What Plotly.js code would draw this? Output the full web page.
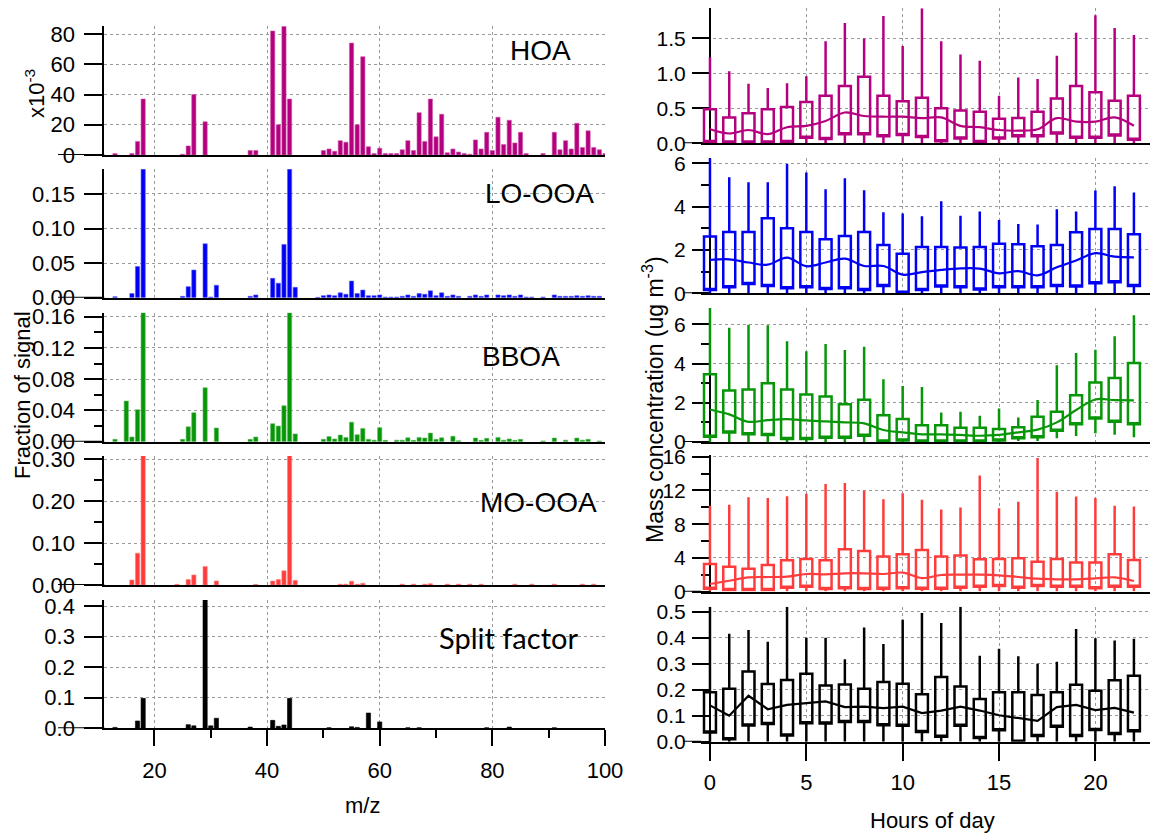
<!DOCTYPE html>
<html><head><meta charset="utf-8">
<script src="https://cdn.plot.ly/plotly-3.0.1.min.js"></script>
<style>html,body{margin:0;padding:0;background:#fff}#chart{width:1154px;height:836px}</style>
</head><body><div id="chart"></div>
<script>
// ---------- Mass spectra (fraction of signal) ----------
const hoaMz = [13,16,17,18,25,26,27,29,37,38,41,42,43,44,50,51,52,53,54,55,56,57,58,59,60,61,62,63,64,65,66,67,68,69,70,71,72,73,74,75,76,77,78,79,80,81,82,83,84,85,86,89,91,92,93,94,95,96,97,98,99,100];
const hoaVal = [1,1,9,37,0.5,6,40,22,3,3,82,20,85,37,3,4,2.5,9.5,8.5,74,20,65,5.5,1,4.5,1,1,1,3.5,9.5,3,28,9,37,12,27,1.5,4,2,1,0.5,10,4,15,3,25,7,23,8,15,1,1,15,3.5,9.5,4,21,5,16,5,3.5,1]; // x10^-3

const looaMz = [13,16,17,18,25,26,27,29,30,31,37,38,41,42,43,44,45,49,50,51,52,53,54,55,56,57,58,59,60,61,62,63,64,65,66,67,68,69,70,71,72,73,74,76,77,78,79,81,82,83,84,85,86,87,89,91,92,93,94,95,96,97,98,99];
const looaVal = [0.0015,0.006,0.045,0.186,
  0.002,0.016,0.040,0.078,0.001,0.018,
  0.002,0.004,
  0.028,0.021,0.077,0.186,0.015,
  0.0005,0.003,0.004,0.003,0.007,0.005,0.024,0.006,0.011,0.003,0.003,0.004,0.001,0.001,0.001,0.002,0.004,0.002,0.006,0.005,0.010,0.003,0.007,0.002,0.004,0.002,
  0.002,0.004,0.002,0.004,
  0.004,0.003,0.004,0.002,0.004,0.001,0.001,
  0.001,
  0.004,0.002,0.002,0.002,0.003,0.002,0.003,0.002,0.002];

const bboaMz = [13,15,16,17,18,25,26,27,29,31,37,38,41,42,43,44,45,50,51,52,53,54,55,56,57,58,59,60,61,63,64,65,66,67,68,69,70,71,73,74,77,78,79,81,82,83,84,85,89,91,93,95,96,97,99];
const bboaVal = [0.003,0.052,0.006,0.041,0.165,
  0.003,0.019,0.037,0.069,0.0175,
  0.003,0.006,
  0.023,0.020,0.046,0.165,0.010,
  0.003,0.0065,0.0035,0.0085,0.0055,0.025,0.009,0.017,0.003,0.002,0.018,0.0017,
  0.002,0.002,0.005,0.0017,0.0055,0.0047,0.011,0.003,0.005,
  0.007,0.0013,
  0.0047,0.0017,0.0043,
  0.0055,0.002,0.0035,0.0017,0.003,
  0.001,
  0.0047,0.002,0.0047,0.002,0.003,0.001];

const mooaMz = [16,17,18,24,26,27,29,31,38,41,42,43,44,45,53,54,55,56,57,64,66,68,69,72,74,76,78,84,87,91,96,98];
const mooaVal = [0.012,0.076,0.31,0.0015,0.013,0.024,0.044,0.0096,
  0.0015,0.0096,0.013,0.034,0.31,0.011,
  0.002,0.002,0.009,0.002,0.004,
  0.002,0.002,0.002,0.003,0.002,0.002,0.002,0.002,0.002,0.002,0.002,0.002,0.002];

const splitMz = [13,17,18,26,27,29,30,31,37,41,42,43,44,51,55,56,58,60,65,67,79,83,91];
const splitVal = [0.003,0.024,0.098,0.012,0.008,0.42,0.008,0.033,0.004,0.026,0.0065,0.011,0.098,0.002,0.005,0.003,0.05,0.021,0.002,0.002,0.002,0.004,0.002];

// ---------- Diurnal box statistics (ug m^-3) ----------
const hours = [0,1,2,3,4,5,6,7,8,9,10,11,12,13,14,15,16,17,18,19,20,21,22];

const hoaQ3 = [0.486,0.37,0.43,0.486,0.52,0.59,0.68,0.82,0.95,0.68,0.6,0.65,0.50,0.47,0.45,0.35,0.36,0.45,0.64,0.82,0.73,0.61,0.68];
const hoaQ1 = [0.02,0.01,0.01,0.01,0.02,0.08,0.06,0.13,0.13,0.10,0.12,0.09,0.03,0.07,0.02,0.07,0.10,0.10,0.14,0.08,0.08,0.11,0.05];
const hoaHi = [1.23,1.03,0.85,0.79,0.86,0.96,1.46,1.72,1.5,1.82,1.39,1.93,1.46,1.27,1.18,0.68,0.94,0.92,1.25,1.58,1.83,1.65,1.55];
const hoaLo = [0,0,0,0,0,0,0,0,0,0,0,0,0,0,0,0,0,0,0,0,0,0,0];
const hoaMed = [0.2,0.14,0.19,0.13,0.23,0.25,0.32,0.44,0.39,0.38,0.38,0.36,0.37,0.25,0.23,0.19,0.18,0.2,0.36,0.31,0.31,0.37,0.25];

const looaQ3 = [2.62,2.83,2.83,3.46,3.0,2.83,2.49,2.65,2.83,2.23,1.82,2.14,2.14,2.11,2.14,2.29,2.26,2.17,2.23,2.82,2.97,2.97,2.72];
const looaQ1 = [0.15,0.28,0.43,0.34,0.23,0.28,0.2,0.23,0.15,0.34,0.03,0.15,0.31,0.28,0.18,0.28,0.28,0.28,0.34,0.31,0.46,0.51,0.34];
const looaHi = [6.23,5.35,5.12,5.12,5.97,5.57,4.8,5.31,4.75,3.74,3.68,3.55,4.25,3.58,3.77,3.38,3.2,3.17,3.88,3.78,4.74,4.94,4.65];
const looaLo = [0,0,0,0,0,0,0,0,0,0,0,0,0,0,0,0,0,0,0,0,0,0,0];
const looaMed = [1.54,1.57,1.42,1.32,1.65,1.25,1.42,1.6,1.26,1.26,0.86,0.98,1.08,1.15,1.14,0.92,1.02,0.83,1.2,1.51,1.85,1.69,1.66];

const bboaQ3 = [3.46,2.63,2.68,3.0,2.68,2.42,2.32,1.92,2.15,1.37,1.17,0.86,0.86,0.73,0.73,0.66,0.75,1.29,1.54,2.39,3.03,3.27,4.03];
const bboaQ1 = [0.27,0.49,0.39,0.36,0.15,0.15,0.22,0.22,0.32,0.02,0.08,0.02,0.02,0.02,0.02,0.08,0.19,0.24,0.58,0.9,1.2,1.03,0.9];
const bboaHi = [6.83,5.83,5.98,5.95,5.14,4.63,5.0,4.69,4.86,3.2,2.86,2.81,1.51,1.54,1.34,1.71,1.25,2.14,3.92,4.54,4.71,5.39,6.46];
const bboaLo = [0,0,0,0,0,0,0,0,0,0,0,0,0,0,0,0,0.05,0.05,0.19,0.3,0.44,0.37,0.24];
const bboaMed = [1.66,1.41,1.03,1.12,1.17,1.1,1.05,1.0,0.95,0.61,0.49,0.39,0.39,0.36,0.32,0.36,0.49,0.63,1.0,1.63,2.17,2.14,2.12];

const mooaQ3 = [3.29,2.97,2.73,3.17,3.72,3.88,3.72,5.03,4.83,4.16,4.44,4.95,4.16,4.28,3.84,3.88,3.96,3.56,3.88,3.45,3.45,4.44,3.76];
const mooaQ1 = [0.36,0.2,0.2,0.2,0.48,0.59,0.32,0.4,0.32,0.36,0.4,0.36,0.36,0.48,0.59,0.67,0.48,0.67,0.59,0.59,0.4,0.59,0.59];
const mooaHi = [10.2,10.3,11.2,11.1,11.3,11.6,12.75,12.87,12.0,10.97,11.68,10.9,9.74,9.98,13.78,9.9,10.65,15.84,11.84,11.29,11.09,10.2,10.1];
const mooaLo = [0.05,0.05,0.05,0.05,0.05,0.05,0.05,0.05,0.05,0.05,0.05,0.05,0.05,0.05,0.05,0.05,0.05,0.05,0.05,0.05,0.05,0.05,0.05];
const mooaMed = [0.91,1.3,1.7,1.74,1.78,2.1,2.06,2.18,2.18,2.1,2.26,1.62,1.98,2.02,2.02,1.94,1.74,1.54,1.47,1.47,1.58,1.7,1.27];

const splitQ3 = [0.19,0.204,0.27,0.222,0.238,0.262,0.216,0.22,0.204,0.23,0.223,0.183,0.249,0.213,0.164,0.19,0.19,0.18,0.19,0.219,0.196,0.237,0.254];
const splitQ1 = [0.035,0.009,0.062,0.068,0.024,0.071,0.07,0.076,0.076,0.063,0.061,0.037,0.019,0.061,0.014,0.044,0.0,0.022,0.058,0.022,0.045,0.03,0.04];
const splitHi = [0.52,0.416,0.43,0.385,0.52,0.4,0.4,0.318,0.44,0.376,0.47,0.496,0.457,0.52,0.331,0.358,0.329,0.3,0.308,0.434,0.398,0.39,0.397];
const splitLo = [0,0,0,0,0,0,0,0,0,0,0,0,0,0,0,0,0,0,0,0,0,0,0];
const splitMed = [0.14,0.1,0.177,0.125,0.142,0.148,0.155,0.133,0.135,0.129,0.135,0.11,0.12,0.135,0.12,0.102,0.09,0.08,0.133,0.142,0.122,0.13,0.112];

const factorNames = ['HOA','LO-OOA','BBOA','MO-OOA','Split factor'];
const factorColors = ['#b4007e','#0000f5','#079607','#ff3c3c','#000000'];

// ---------- layout helpers ----------
const W = 1154, H = 836;
const px = v => v / W;
const py = v => 1 - v / H;
const FONT = "'Liberation Sans', Arial, sans-serif";

const specs = [
  {mz: hoaMz, val: hoaVal, q1: hoaQ1, q3: hoaQ3, hi: hoaHi, lo: hoaLo, med: hoaMed},
  {mz: looaMz, val: looaVal, q1: looaQ1, q3: looaQ3, hi: looaHi, lo: looaLo, med: looaMed},
  {mz: bboaMz, val: bboaVal, q1: bboaQ1, q3: bboaQ3, hi: bboaHi, lo: bboaLo, med: bboaMed},
  {mz: mooaMz, val: mooaVal, q1: mooaQ1, q3: mooaQ3, hi: mooaHi, lo: mooaLo, med: mooaMed},
  {mz: splitMz, val: splitVal, q1: splitQ1, q3: splitQ3, hi: splitHi, lo: splitLo, med: splitMed}
];

const leftPx = [[26,155],[169.3,297.7],[312.7,441.7],[456,585],[600,728.3]];
const leftRange = [[0,85.3],[0,0.1857],[0,0.165],[0,0.308],[0,0.42]];
const leftDtick = [20,0.05,0.04,0.1,0.1];
const leftMinor = [null,null,0.02,0.05,null];
const leftFmt = ['d','.2f','.2f','.2f','.1f'];

const rightPx = [[8.3,143.3],[158.3,293.3],[307.7,442],[455,591.7],[606.7,741.7]];
const rightRange = [[0,1.93],[0,6.23],[0,6.85],[0,16.2],[0,0.52]];
const rightDtick = [0.5,2,2,4,0.1];
const rightMinor = [null,1,1,2,null];
const rightFmt = ['.1f','d','d','d','.1f'];

const leftXpx = [104.3, 605];
const rightXpx = [701.3, 1150.3];
const hour0px = 710;

const traces = [];
const layout = {
  width: W, height: H,
  margin: {l:0, r:0, t:0, b:0},
  paper_bgcolor: '#fff', plot_bgcolor: 'rgba(0,0,0,0)',
  showlegend: false,
  font: {family: FONT, size: 22, color: '#000'},
  annotations: [], shapes: []
};

const gridStyle = {showgrid: true, gridcolor: '#9a9a9a', gridwidth: 1, griddash: '3px,3px'};

function lighten(hex, f) {
  const n = parseInt(hex.slice(1), 16);
  const r = (n >> 16) & 255, g = (n >> 8) & 255, b = n & 255;
  const m = c => Math.round(c + (255 - c) * f);
  return `rgb(${m(r)},${m(g)},${m(b)})`;
}

for (let i = 0; i < 5; i++) {
  const s = specs[i];
  const color = factorColors[i];
  const nL = i + 1, nR = i + 6;
  const bottom = (i === 4);

  // ----- left: mass spectrum bars -----
  traces.push({
    type: 'bar', x: s.mz, y: s.val, width: 0.75,
    xaxis: 'x' + nL, yaxis: 'y' + nL,
    marker: {color: color, line: {color: lighten(color, i === 4 ? 0 : 0.35), width: 0.6}},
    hoverinfo: 'x+y'
  });
  const xL = Object.assign({
    domain: [px(leftXpx[0]), px(leftXpx[1])], range: [11.1, 100], anchor: 'y' + nL,
    showline: true, linecolor: '#000', linewidth: 2, zeroline: false,
    tick0: 0, dtick: 20, ticks: bottom ? 'outside' : '', ticklen: 16, tickwidth: 2, tickcolor: '#000',
    showticklabels: bottom, tickfont: {size: 22, family: FONT}, ticklabelstandoff: 5
  }, gridStyle);
  if (bottom) xL.minor = {dtick: 10, tick0: 0, ticks: 'outside', ticklen: 8, tickwidth: 2, tickcolor: '#000', showgrid: false};
  layout['xaxis' + nL] = xL;
  const yL = Object.assign({
    domain: [py(leftPx[i][1]), py(leftPx[i][0])], range: leftRange[i], anchor: 'x' + nL,
    showline: true, linecolor: '#000', linewidth: 2, zeroline: false,
    tick0: 0, dtick: leftDtick[i], tickformat: leftFmt[i],
    ticks: 'outside', ticklen: 18, tickwidth: 2, tickcolor: '#000',
    tickfont: {size: 22, family: FONT}, ticklabelstandoff: 5
  }, gridStyle);
  if (leftMinor[i]) yL.minor = {dtick: leftMinor[i], tick0: 0, ticks: 'outside', ticklen: 8, tickwidth: 2, tickcolor: '#000', showgrid: false};
  layout['yaxis' + nL] = yL;
  layout.shapes.push({type: 'line', xref: 'paper', yref: 'y' + nL, x0: px(58), x1: px(leftXpx[0]), y0: 0, y1: 0, line: {color: '#000', width: 2}});

  // ----- right: diurnal boxes -----
  traces.push({
    type: 'box', x: hours, q1: s.q1, median: s.q1, q3: s.q3, lowerfence: s.lo, upperfence: s.hi,
    xaxis: 'x' + nR, yaxis: 'y' + nR, width: 0.62, whiskerwidth: 0, boxpoints: false,
    line: {color: color, width: 2.5}, fillcolor: 'rgba(0,0,0,0)', hoverinfo: 'skip'
  });
  traces.push({
    type: 'scatter', mode: 'lines', x: hours, y: s.med,
    xaxis: 'x' + nR, yaxis: 'y' + nR,
    line: {color: color, width: 2.2, shape: i === 4 ? 'linear' : 'spline', smoothing: 1}
  });
  layout['xaxis' + nR] = Object.assign({
    domain: [px(rightXpx[0]), px(rightXpx[1])], range: [-0.45, 22.85], anchor: 'y' + nR,
    showline: true, linecolor: '#000', linewidth: 2, zeroline: false,
    tick0: 0, dtick: 5, ticks: bottom ? 'outside' : '', ticklen: 17, tickwidth: 2, tickcolor: '#000',
    showticklabels: bottom, tickfont: {size: 22, family: FONT}, ticklabelstandoff: 3
  }, gridStyle);
  const yR = Object.assign({
    domain: [py(rightPx[i][1]), py(rightPx[i][0])], range: rightRange[i], anchor: 'free', position: px(hour0px),
    showline: true, linecolor: '#000', linewidth: 2, zeroline: false, layer: 'below traces',
    tick0: 0, dtick: rightDtick[i], tickformat: rightFmt[i],
    ticks: 'outside', ticklen: 17, tickwidth: 2, tickcolor: '#000',
    tickfont: {size: 21, family: FONT}, ticklabelstandoff: 2
  }, gridStyle);
  if (rightMinor[i]) yR.minor = {dtick: rightMinor[i], tick0: 0, ticks: 'outside', ticklen: 8, tickwidth: 2, tickcolor: '#000', showgrid: false};
  layout['yaxis' + nR] = yR;
  layout.shapes.push({type: 'line', xref: 'paper', yref: 'y' + nR, x0: px(683), x1: px(rightXpx[0]), y0: 0, y1: 0, line: {color: '#000', width: 2}});
}

// panel labels
const labelPos = [[540,50],[539,194],[521,357],[538,502],[508,637]];
for (let i = 0; i < 5; i++) {
  layout.annotations.push({
    text: factorNames[i], xref: 'paper', yref: 'paper',
    x: px(labelPos[i][0]), y: py(labelPos[i][1]), xanchor: 'center', yanchor: 'middle', showarrow: false,
    font: i === 4 ? {family: "Lato, 'Open Sans', sans-serif", size: 29, color: '#000'} : {family: FONT, size: 28, color: '#000'}
  });
}
// axis titles
const titleAnn = (text, x, y, angle, size) => ({
  text, xref: 'paper', yref: 'paper', x: px(x), y: py(y), xanchor: 'center', yanchor: 'middle',
  showarrow: false, textangle: angle, font: {family: FONT, size: size, color: '#000'}
});
layout.annotations.push(titleAnn('x10<sup>-3</sup>', 35, 94, -90, 22));
layout.annotations.push(titleAnn('Fraction of signal', 22, 395, -90, 22));
layout.annotations.push(titleAnn('m/z', 362, 805, 0, 22));
layout.annotations.push(titleAnn('Mass concentration (ug m<sup>-3</sup>)', 653, 400, -90, 23));
layout.annotations.push(titleAnn('Hours of day', 932, 820, 0, 22));

Plotly.newPlot('chart', traces, layout, {displayModeBar: false, responsive: false});
</script></body></html>
